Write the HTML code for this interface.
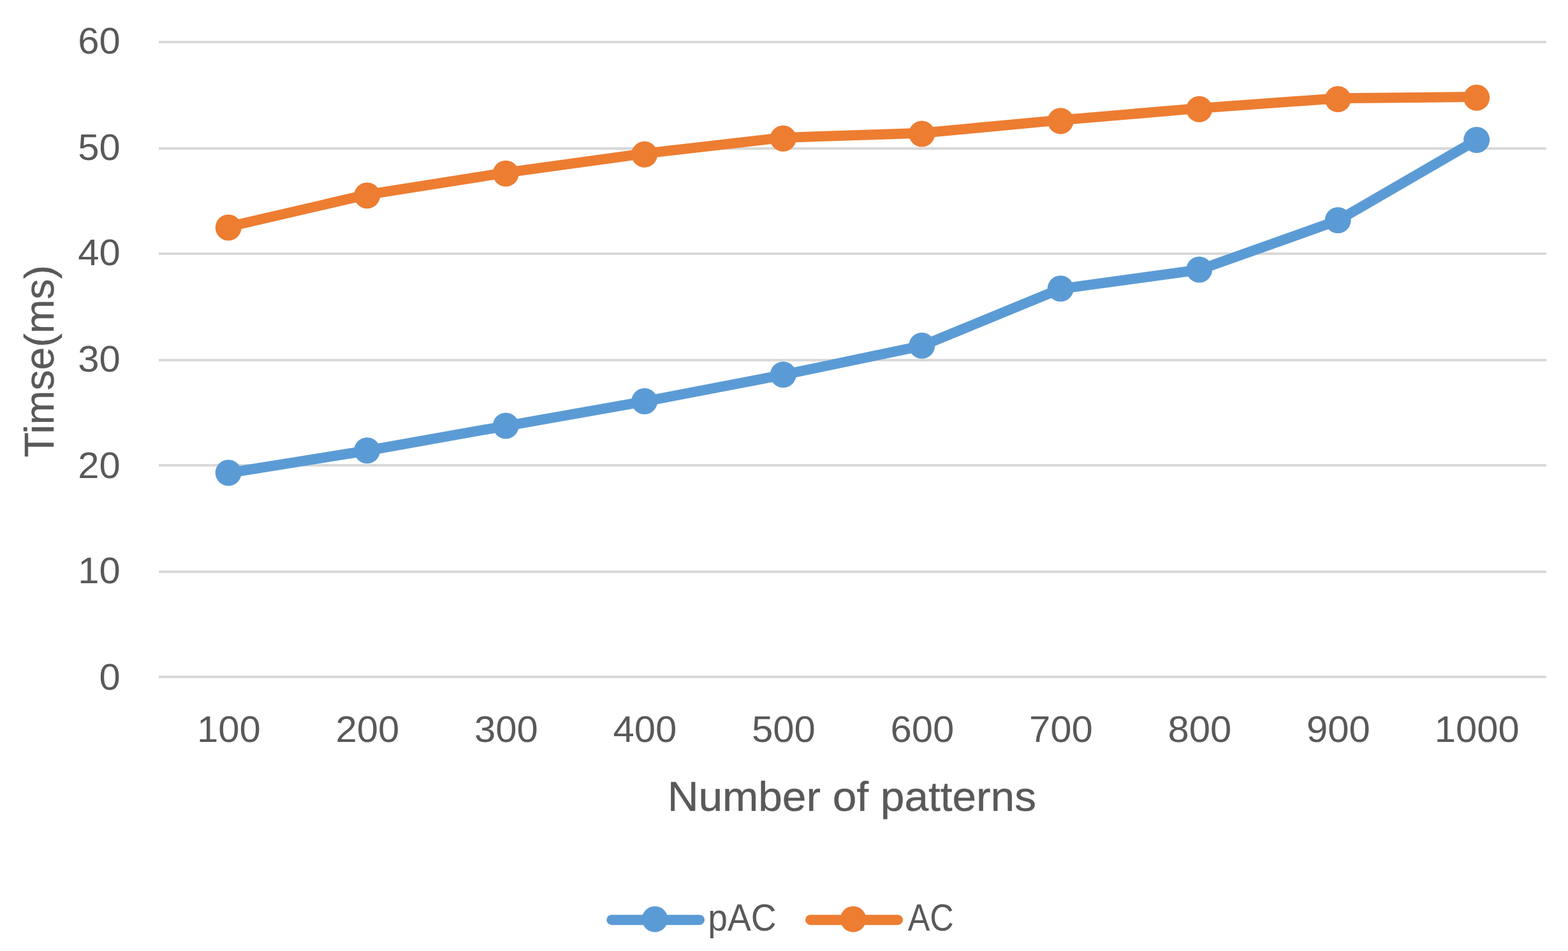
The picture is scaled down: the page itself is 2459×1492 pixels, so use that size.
<!DOCTYPE html>
<html lang="en">
<head>
<meta charset="utf-8">
<title>Number of patterns vs Time (ms): pAC and AC</title>
<style>
html,body{margin:0;padding:0;background:#fff;}
body{width:2459px;height:1492px;overflow:hidden;}
svg{display:block;position:absolute;left:0;top:0;}
text{font-family:"Liberation Sans",Arial,sans-serif;fill:#595959;}
.tick{font-size:57.5px;}
.title{font-size:64.5px;stroke:#595959;stroke-width:0.4px;}
.ytitle{font-size:65.5px;stroke:#595959;stroke-width:0.4px;}
.leg{font-size:60px;}
</style>
</head>
<body>
<svg width="2459" height="1492" viewBox="0 0 2459 1492" role="img" aria-label="Line chart">
<rect x="0" y="0" width="2459" height="1492" fill="#ffffff"/>
<g fill="#D9D9D9">
<rect x="249" y="64" width="2176" height="4"/>
<rect x="249" y="231" width="2176" height="4"/>
<rect x="249" y="396" width="2176" height="4"/>
<rect x="249" y="563" width="2176" height="4"/>
<rect x="249" y="728" width="2176" height="4"/>
<rect x="249" y="895" width="2176" height="4"/>
<rect x="249" y="1060" width="2176" height="4"/>
</g>
<g>
<text class="tick" x="122.22" y="83.70" textLength="66.52" lengthAdjust="spacingAndGlyphs">60</text>
<text class="tick" x="122.22" y="250.80" textLength="66.52" lengthAdjust="spacingAndGlyphs">50</text>
<text class="tick" x="122.22" y="415.80" textLength="66.52" lengthAdjust="spacingAndGlyphs">40</text>
<text class="tick" x="122.22" y="582.80" textLength="66.52" lengthAdjust="spacingAndGlyphs">30</text>
<text class="tick" x="122.22" y="749.85" textLength="66.52" lengthAdjust="spacingAndGlyphs">20</text>
<text class="tick" x="122.22" y="914.80" textLength="66.52" lengthAdjust="spacingAndGlyphs">10</text>
<text class="tick" x="155.48" y="1081.70" textLength="33.26" lengthAdjust="spacingAndGlyphs">0</text>
</g>
<g>
<text class="tick" x="308.91" y="1164.45" textLength="99.77" lengthAdjust="spacingAndGlyphs">100</text>
<text class="tick" x="526.41" y="1164.45" textLength="99.77" lengthAdjust="spacingAndGlyphs">200</text>
<text class="tick" x="743.91" y="1164.45" textLength="99.77" lengthAdjust="spacingAndGlyphs">300</text>
<text class="tick" x="961.41" y="1164.45" textLength="99.77" lengthAdjust="spacingAndGlyphs">400</text>
<text class="tick" x="1178.91" y="1164.45" textLength="99.77" lengthAdjust="spacingAndGlyphs">500</text>
<text class="tick" x="1396.41" y="1164.45" textLength="99.77" lengthAdjust="spacingAndGlyphs">600</text>
<text class="tick" x="1613.91" y="1164.45" textLength="99.77" lengthAdjust="spacingAndGlyphs">700</text>
<text class="tick" x="1831.41" y="1164.45" textLength="99.77" lengthAdjust="spacingAndGlyphs">800</text>
<text class="tick" x="2048.91" y="1164.45" textLength="99.77" lengthAdjust="spacingAndGlyphs">900</text>
<text class="tick" x="2249.78" y="1164.45" textLength="133.03" lengthAdjust="spacingAndGlyphs">1000</text>
</g>
<text class="title" x="1046.66" y="1272.00" textLength="578.28" lengthAdjust="spacingAndGlyphs">Number of patterns</text>
<text class="ytitle" transform="translate(84,716) rotate(-90)" x="-1.43" y="0" textLength="301.39" lengthAdjust="spacingAndGlyphs">Timse(ms)</text>
<g>
<polyline points="358.2,742 575.7,707 793.2,668.3 1010.7,629.8 1228.2,588.1 1445.7,542.6 1663.2,453.1 1880.7,423.3 2098.2,345.8 2315.7,219.8" fill="none" stroke="#5B9BD5" stroke-width="16" stroke-linejoin="round" stroke-linecap="round"/>
<circle cx="358.2" cy="741.7" r="20.5" fill="#5B9BD5"/>
<circle cx="575.7" cy="706.7" r="20.5" fill="#5B9BD5"/>
<circle cx="793.2" cy="668" r="20.5" fill="#5B9BD5"/>
<circle cx="1010.7" cy="629.5" r="20.5" fill="#5B9BD5"/>
<circle cx="1228.2" cy="587.8" r="20.5" fill="#5B9BD5"/>
<circle cx="1445.7" cy="542.3" r="20.5" fill="#5B9BD5"/>
<circle cx="1663.2" cy="452.8" r="20.5" fill="#5B9BD5"/>
<circle cx="1880.7" cy="423" r="20.5" fill="#5B9BD5"/>
<circle cx="2098.2" cy="345.5" r="20.5" fill="#5B9BD5"/>
<circle cx="2315.7" cy="219.5" r="20.5" fill="#5B9BD5"/>
</g>
<g>
<polyline points="358.2,355.7 575.7,305.4 793.2,270.9 1010.7,240.9 1228.2,215.9 1445.7,208.7 1663.2,188.4 1880.7,169.9 2098.2,154.2 2315.7,152" fill="none" stroke="#ED7D31" stroke-width="16" stroke-linejoin="round" stroke-linecap="round"/>
<circle cx="358.2" cy="357" r="20.5" fill="#ED7D31"/>
<circle cx="575.7" cy="306.7" r="20.5" fill="#ED7D31"/>
<circle cx="793.2" cy="272.2" r="20.5" fill="#ED7D31"/>
<circle cx="1010.7" cy="242.2" r="20.5" fill="#ED7D31"/>
<circle cx="1228.2" cy="217.2" r="20.5" fill="#ED7D31"/>
<circle cx="1445.7" cy="210" r="20.5" fill="#ED7D31"/>
<circle cx="1663.2" cy="189.7" r="20.5" fill="#ED7D31"/>
<circle cx="1880.7" cy="171.2" r="20.5" fill="#ED7D31"/>
<circle cx="2098.2" cy="155.5" r="20.5" fill="#ED7D31"/>
<circle cx="2315.7" cy="153.3" r="20.5" fill="#ED7D31"/>
</g>
<line x1="959.25" y1="1443.2" x2="1097" y2="1443.2" stroke="#5B9BD5" stroke-width="16" stroke-linecap="round"/>
<circle cx="1027" cy="1442.1" r="20.3" fill="#5B9BD5"/>
<text class="leg" x="1110.19" y="1460.00" textLength="107.41" lengthAdjust="spacingAndGlyphs">pAC</text>
<line x1="1271" y1="1443.2" x2="1408" y2="1443.2" stroke="#ED7D31" stroke-width="16" stroke-linecap="round"/>
<circle cx="1338" cy="1442.1" r="20.3" fill="#ED7D31"/>
<text class="leg" x="1423.65" y="1460.00" textLength="72.08" lengthAdjust="spacingAndGlyphs">AC</text>
</svg>
</body>
</html>
